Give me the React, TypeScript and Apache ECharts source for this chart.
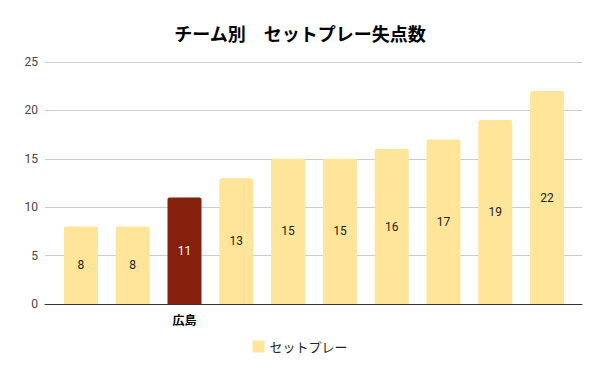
import React, { useEffect, useRef } from "react";
import * as echarts from "echarts";

const title = "チーム別　セットプレー失点数";
const seriesName = "セットプレー";
const categories = ["", "", "広島", "", "", "", "", "", "", ""];
const values = [8, 8, 11, 13, 15, 15, 16, 17, 19, 22];
const highlightIndex = 2;
const yTicks = [0, 5, 10, 15, 20, 25];

const YELLOW = "#FFE599";
const RED = "#85200C";

export default function App() {
  const ref = useRef<HTMLDivElement>(null);
  useEffect(() => {
    if (!ref.current) return;
    const chart = echarts.init(ref.current, null, { renderer: "svg" });
    const yMin = yTicks[0];
    const yMax = yTicks[yTicks.length - 1];
    const interval = yTicks[1] - yTicks[0];
    chart.setOption({
      animation: false,
      textStyle: { fontFamily: "Roboto, Arial, 'Noto Sans CJK JP', sans-serif" },
      title: {
        text: title,
        left: "center",
        top: 19,
        textStyle: {
          fontFamily: "'Noto Sans CJK JP', sans-serif",
          fontWeight: "bold",
          fontSize: 18,
          color: "#000",
        },
      },
      legend: {
        top: 335,
        left: "center",
        itemWidth: 12,
        itemHeight: 12,
        icon: "rect",
        itemGap: 10,
        textStyle: { fontSize: 13, color: "#222", fontFamily: "'Noto Sans CJK JP', sans-serif" },
        data: [seriesName],
      },
      grid: [
        { left: 45, right: 18, top: 62, bottom: 67 },
        { left: 55, right: 27, top: 62, bottom: 67 },
      ],
      xAxis: [
        {
          type: "category",
          gridIndex: 0,
          data: ["a"],
          axisLine: { show: true, lineStyle: { color: "#333", width: 1 } },
          axisTick: { show: false },
          axisLabel: { show: false },
        },
        {
          type: "category",
          gridIndex: 1,
          data: categories.map((c, i) => (c === "" ? " ".repeat(i + 1) : c)),
          axisLine: { show: false },
          axisTick: { show: false },
          axisLabel: {
            interval: 0,
            margin: 9,
            fontSize: 12,
            fontWeight: "bold",
            color: "#000",
            fontFamily: "'Noto Sans CJK JP', sans-serif",
            formatter: (v: string) => v.trim(),
          },
        },
      ],
      yAxis: [
        {
          type: "value",
          gridIndex: 0,
          min: yMin,
          max: yMax,
          interval,
          axisLine: { show: false },
          axisTick: { show: false },
          axisLabel: { margin: 7, fontSize: 12, color: "#444" },
          splitLine: { lineStyle: { color: "#cccccc", width: 1 } },
        },
        {
          type: "value",
          gridIndex: 1,
          min: yMin,
          max: yMax,
          interval,
          show: false,
          splitLine: { show: false },
        },
      ],
      series: [
        {
          name: seriesName,
          type: "bar",
          xAxisIndex: 1,
          yAxisIndex: 1,
          barWidth: 34,
          itemStyle: { color: YELLOW, borderRadius: [2, 2, 0, 0] },
          label: {
            show: true,
            position: "inside",
            fontSize: 12,
            color: "#222",
          },
          data: values.map((v, i) =>
            i === highlightIndex
              ? { value: v, itemStyle: { color: RED }, label: { color: "#fff" } }
              : v
          ),
        },
      ],
    });
    return () => chart.dispose();
  }, []);
  return <div ref={ref} style={{ width: 600, height: 371, position: "absolute", left: 0, top: 0 }} />;
}
